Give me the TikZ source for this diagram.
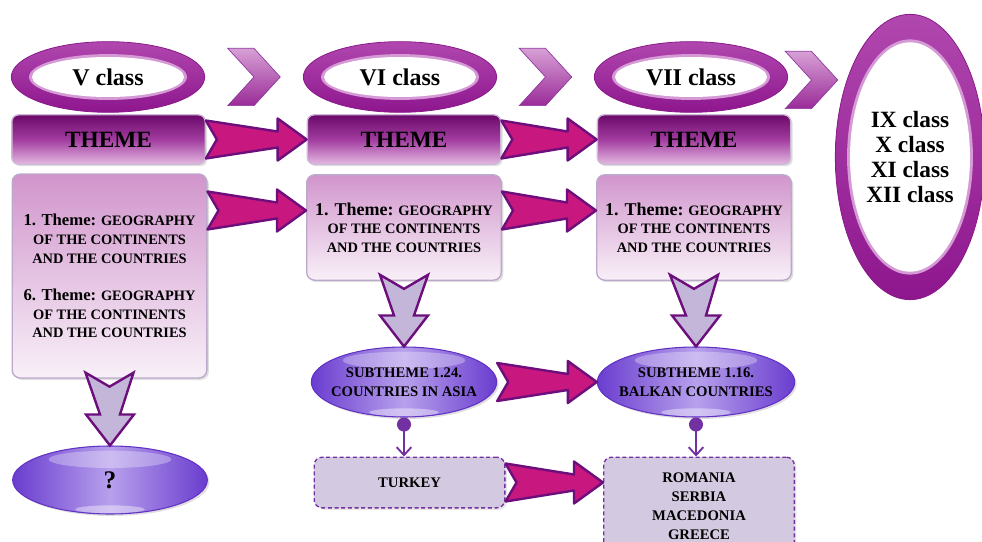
\documentclass[tikz,border=0pt]{standalone}
\usepackage{fontspec}
\setmainfont{Liberation Serif}
\usetikzlibrary{shapes.geometric,shapes.symbols,calc,shadows,arrows.meta}

\definecolor{ringtop}{HTML}{B047AE}
\definecolor{ringbot}{HTML}{8E168E}
\definecolor{ringlight}{HTML}{D59AD5}
\definecolor{ringedge}{HTML}{8A1A8A}
\definecolor{bartop}{HTML}{6B0A6B}
\definecolor{barmid}{HTML}{A23CA0}
\definecolor{barbot}{HTML}{E4B8E1}
\definecolor{barrim}{HTML}{CDB8D6}
\definecolor{boxtop}{HTML}{D195CC}
\definecolor{boxbot}{HTML}{F8F0F8}
\definecolor{boxrim}{HTML}{BBA8CB}
\definecolor{subdark}{HTML}{6A3DCF}
\definecolor{sublight}{HTML}{B7A0EC}
\definecolor{subedge}{HTML}{6232C4}
\definecolor{countryfill}{HTML}{D3C9E0}
\definecolor{dotcol}{HTML}{7330A0}
\definecolor{arrpink}{HTML}{C8177F}
\definecolor{arrrim}{HTML}{6C0E7C}
\definecolor{arrlav}{HTML}{C4B6D8}
\definecolor{chevtop}{HTML}{D7A0D5}
\definecolor{chevbot}{HTML}{9A2B98}
\definecolor{chevedge}{HTML}{8E35A0}

\tikzset{
  ring/.style 2 args={ellipse, inner sep=0pt, top color=ringtop, bottom color=ringbot,
    draw=ringedge, line width=0.6pt, font=\fontsize{18}{22}\selectfont\bfseries,
    path picture={
      \fill[ringlight] (path picture bounding box.center) ellipse [x radius=#1+2.2pt, y radius=#2+2.2pt];
      \fill[white] (path picture bounding box.center) ellipse [x radius=#1, y radius=#2];}},
  chevron/.style={signal, signal to=east, signal from=west, signal pointer angle=95,
    minimum width=39pt, minimum height=43pt, inner sep=0pt,
    top color=chevtop, bottom color=chevbot, draw=chevedge, line width=0.5pt},
  themebar/.style={rectangle, rounded corners=5pt, minimum width=145pt, minimum height=37pt,
    top color=bartop, bottom color=barbot, middle color=barmid, draw=barrim, line width=1pt,
    font=\fontsize{17.5}{20}\selectfont\bfseries,
    drop shadow={opacity=0.25, shadow xshift=1.5pt, shadow yshift=-1.5pt}},
  topicbox/.style={rectangle, rounded corners=6pt, minimum width=146pt, align=center,
    top color=boxtop, bottom color=boxbot, draw=boxrim, line width=1pt,
    font=\fontsize{10.8}{14}\selectfont\bfseries,
    drop shadow={opacity=0.25, shadow xshift=1.5pt, shadow yshift=-1.5pt}},
  subtheme/.style={ellipse, inner xsep=-12pt, inner ysep=0pt, align=center,
    left color=subdark, right color=subdark, middle color=sublight,
    draw=subedge, line width=0.8pt, font=\fontsize{11}{14}\selectfont\bfseries,
    drop shadow={opacity=0.25, shadow xshift=1.5pt, shadow yshift=-1.5pt},
    path picture={
      \fill[white, opacity=0.3] ($(path picture bounding box.north)+(0,-10pt)$) ellipse [x radius=46pt, y radius=6.5pt];
      \fill[white, opacity=0.4] ($(path picture bounding box.south)+(0,3.5pt)$) ellipse [x radius=26pt, y radius=3pt];}},
  countrybox/.style={rectangle, rounded corners=6pt, minimum width=143pt, align=center,
    fill=countryfill, draw=dotcol, dash pattern=on 3pt off 2pt, line width=1pt,
    font=\fontsize{11}{14.25}\selectfont\bfseries,
    drop shadow={opacity=0.2, shadow xshift=1.5pt, shadow yshift=-1.5pt}},
  pinkarr/.style={fill=arrpink, draw=arrrim, line width=1.8pt, line join=round},
  lavarr/.style={fill=arrlav, draw=arrrim, line width=1.8pt, line join=miter},
  dotline/.style={draw=dotcol, line width=1.4pt, {Circle[length=10.5pt]}-{Straight Barb[length=6pt,width=11pt]}}
}

% big pink arrow from tail point #1 to tip point #2
\newcommand\pinkarrow[2]{%
  \draw[pinkarr] ($(#1)+(0,-19)$) -- ($(#2)+(-29,-8)$) -- ($(#2)+(-29,-21)$) -- (#2)
    -- ($(#2)+(-29,21)$) -- ($(#2)+(-29,8)$) -- ($(#1)+(0,19)$) -- ($(#1)+(11,0)$) -- cycle;}
% lavender down arrow from top point #1 to tip point #2
\newcommand\lavarrow[2]{%
  \draw[lavarr] ($(#1)+(-24,-6)$) -- ($(#1)+(0,8)$) -- ($(#1)+(24,-6)$) -- ($(#2)+(10,-31)$)
    -- ($(#2)+(24,-31)$) -- (#2) -- ($(#2)+(-24,-31)$) -- ($(#2)+(-10,-31)$) -- cycle;}

\begin{document}
\begin{tikzpicture}[x=0.75pt, y=-0.75pt]
  \useasboundingbox (0,0) rectangle (982,542);

  % class rings
  \node[ring={57pt}{15pt}, minimum width=145pt, minimum height=53pt] (r5) at (108,77) {V class};
  \node[ring={57pt}{15pt}, minimum width=145pt, minimum height=53pt] (r6) at (400,77) {VI class};
  \node[ring={57pt}{15pt}, minimum width=145pt, minimum height=53pt] (r7) at (691,77) {VII class};
  \node[ring={45pt}{86pt}, minimum width=112pt, minimum height=214pt, align=center,
    font=\fontsize{17.5}{18.75}\selectfont\bfseries] (r9) at (910,157) {IX class\\X class\\XI class\\XII class};

  \node[chevron] (ch5) at ($(r5.east)!0.5!(r6.west)$) {};
  \node[chevron] (ch6) at ($(r6.east)!0.5!(r7.west)$) {};
  \node[chevron] (ch7) at ($(r7.east)!0.5!(r9.west |- r7.east)+(0,3)$) {};

  % theme bars
  \node[themebar] (t5) at (108.5,139.5) {THEME};
  \node[themebar] (t6) at (404,139.5) {THEME};
  \node[themebar] (t7) at (694,139.5) {THEME};

  % theme contents
  \node[topicbox, minimum height=153pt] (c5) at (109.5,276)
    {{\fontsize{12.5}{14}\selectfont 1. Theme:} GEOGRAPHY\\OF THE CONTINENTS\\AND THE COUNTRIES\\[14pt]
     {\fontsize{12.5}{14}\selectfont 6. Theme:} GEOGRAPHY\\OF THE CONTINENTS\\AND THE COUNTRIES};
  \node[topicbox, minimum height=79pt] (c6) at (404,227.5)
    {{\fontsize{13.5}{14}\selectfont 1. Theme:} GEOGRAPHY\\OF THE CONTINENTS\\AND THE COUNTRIES};
  \node[topicbox, minimum height=79pt] (c7) at (694,227.5)
    {{\fontsize{13.5}{14}\selectfont 1. Theme:} GEOGRAPHY\\OF THE CONTINENTS\\AND THE COUNTRIES};

  % subthemes
  \node[subtheme, minimum width=146pt, minimum height=51pt, font=\fontsize{19}{20}\selectfont\bfseries] (q5) at (110,480) {?};
  \node[subtheme, minimum width=139pt, minimum height=52.5pt] (s6) at (404,382) {SUBTHEME 1.24.\\COUNTRIES IN ASIA};
  \node[subtheme, minimum width=148pt, minimum height=52.5pt] (s7) at (696,382) {SUBTHEME 1.16.\\BALKAN COUNTRIES};

  % countries
  \node[countrybox, minimum height=38pt] (tk) at (409.5,482.5) {TURKEY};
  \node[countrybox, minimum height=74pt] (ct) at (699,506.5) {ROMANIA\\SERBIA\\MACEDONIA\\GREECE};

  % arrows
  \coordinate (p6) at ($(c6.west)+(0,-17)$);
  \coordinate (p7) at ($(c7.west)+(0,-17)$);
  \pinkarrow{t5.east}{t6.west}
  \pinkarrow{t6.east}{t7.west}
  \pinkarrow{c5.east |- p6}{p6}
  \pinkarrow{c6.east |- p7}{p7}
  \pinkarrow{s6.east}{s7.west}
  \pinkarrow{tk.east}{ct.west |- tk.east}

  \lavarrow{c5.south}{q5.north}
  \lavarrow{c6.south}{s6.north}
  \lavarrow{c7.south}{s7.north}

  \draw[dotline] (s6.south) -- (s6.south |- tk.north);
  \draw[dotline] (s7.south) -- (s7.south |- ct.north);
\end{tikzpicture}
\end{document}
